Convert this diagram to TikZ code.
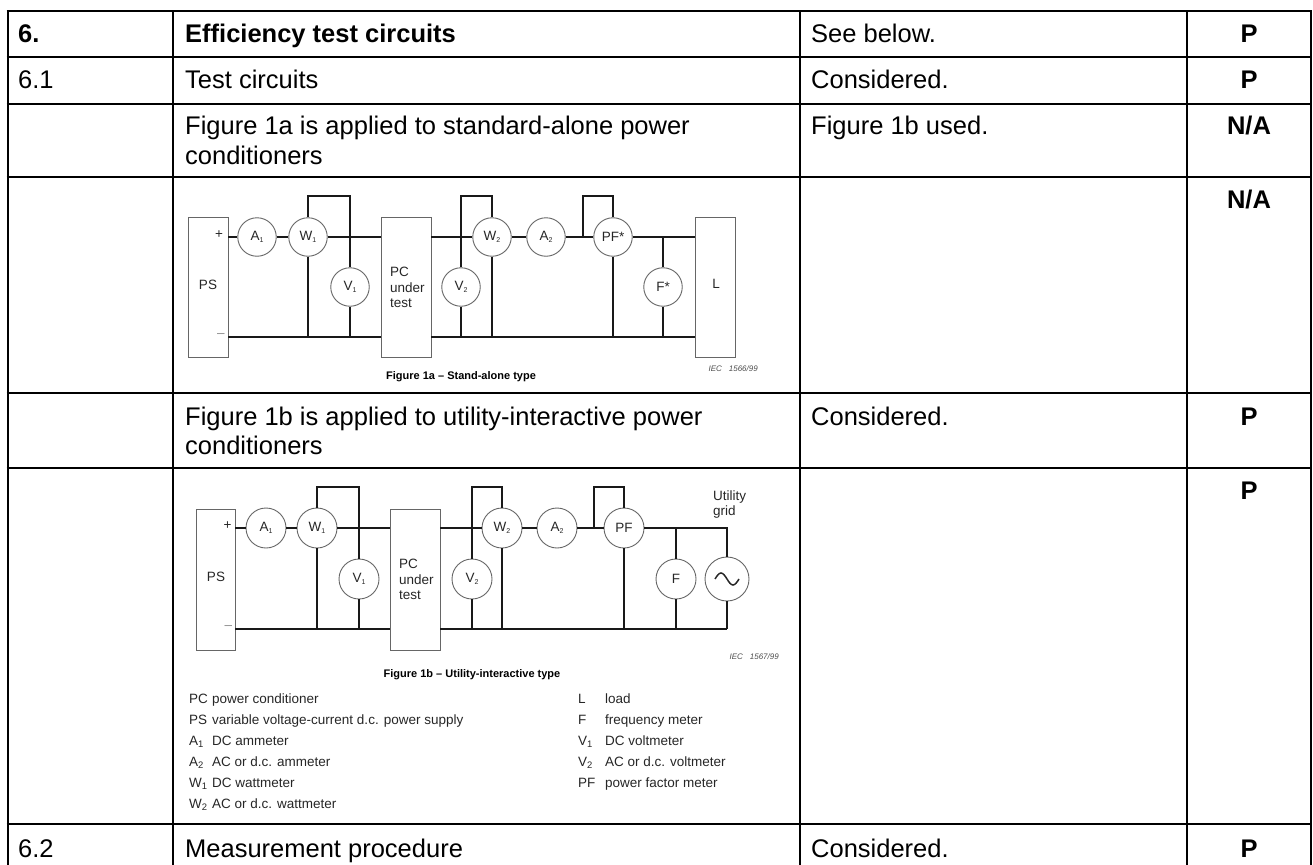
\documentclass[tikz,border=0pt]{standalone}
\usepackage{fontspec}
\setmainfont{Liberation Sans}
\usetikzlibrary{calc}
\newcommand\msb[1]{\raisebox{-2.4pt}{\fontsize{7}{7}\selectfont #1}}
\begin{document}
\begin{tikzpicture}[x=1pt,y=-1pt,
  tline/.style={line width=2pt, black},
  cell/.style={anchor=base west, inner sep=0pt, font=\fontsize{25.5}{29}\selectfont},
  cellb/.style={anchor=base west, inner sep=0pt, font=\fontsize{25.5}{29}\selectfont\bfseries},
  verd/.style={anchor=base, inner sep=0pt, font=\fontsize{25.5}{29}\selectfont\bfseries},
  wire/.style={line width=1.4pt, black!90},
  dev/.style={draw=black!60, line width=0.9pt, inner sep=0pt, font=\fontsize{13.5}{15.5}\selectfont, text=black!85},
  meter/.style={circle, draw=black!60, line width=0.9pt, minimum size=38.5pt, inner sep=0pt, font=\fontsize{13.5}{13.5}\selectfont, text=black!85},
  lbl/.style={inner sep=0pt, font=\fontsize{13.5}{15.5}\selectfont, text=black!85},
  figcap/.style={inner sep=0pt, font=\fontsize{11}{11}\selectfont\bfseries},
  iec/.style={inner sep=0pt, font=\fontsize{8}{8}\selectfont\itshape, text=black!70},
  leg/.style={anchor=base west, inner sep=0pt, font=\fontsize{13.5}{15}\selectfont, text=black!85},
]
\useasboundingbox (0,0) rectangle (1313,864);
\clip (0,0) rectangle (1313,864);

% ---- table grid
\foreach \y in {11.5,57,104,177,393,468,824} \draw[tline] (6.5,\y) -- (1312,\y);
\foreach \x in {7.5,173,800,1187,1311} \draw[tline] (\x,10.5) -- (\x,870);

% ---- table texts
\node[cellb] (r1a) at (18,43) {6.};
\node[cellb] (r1b) at (185,43) {Efficiency test circuits};
\node[cell]  (r1c) at (811,43) {See below.};
\node[verd]  (r1d) at (1249,43) {P};
\node[cell]  (r2a) at (18,88.5) {6.1};
\node[cell]  (r2b) at (185,88.5) {Test circuits};
\node[cell]  (r2c) at (811,88.5) {Considered.};
\node[verd]  (r2d) at (1249,88.5) {P};
\node[cell]  (r3b) at (185,135) {Figure 1a is applied to standard-alone power};
\node[cell]  (r3b2) at (185,164) {conditioners};
\node[cell]  (r3c) at (811,135) {Figure 1b used.};
\node[verd]  (r3d) at (1249,135) {N/A};
\node[verd]  (r4d) at (1249,208.5) {N/A};
\node[cell]  (r5b) at (185,425) {Figure 1b is applied to utility-interactive power};
\node[cell]  (r5b2) at (185,454) {conditioners};
\node[cell]  (r5c) at (811,425) {Considered.};
\node[verd]  (r5d) at (1249,425) {P};
\node[verd]  (r6d) at (1249,499.5) {P};
\node[cell]  (r7a) at (18,857) {6.2};
\node[cell]  (r7b) at (185,857) {Measurement procedure};
\node[cell]  (r7c) at (811,857) {Considered.};
\node[verd]  (r7d) at (1249,857) {P};

% ==== Figure 1a
\coordinate (t1) at (0,196);
\coordinate (b1) at (0,337);
\node[dev, minimum width=40pt, minimum height=140pt] (ps1) at (208,287) {};
\node[lbl] (pst1) at (208,285) {PS};
\node[dev, minimum width=50pt, minimum height=140pt] (pc1) at (406,287) {};
\node[dev, minimum width=40pt, minimum height=140pt] (ld1) at (715,287) {};
\node[lbl] (ldt1) at (716,284) {L};
\node[lbl] (pl1) at (219,235) {+};
\node[lbl, text=black!45] (mn1) at (221,336) {–};
\node[lbl, anchor=base west] (pct1) at (390,276) {PC};
\node[lbl, anchor=base west] (pcu1) at (390,292) {under};
\node[lbl, anchor=base west] (pcs1) at (390,307) {test};
\node[meter] (a11) at (257,237) {A\msb{1}};
\node[meter] (w11) at (308,237) {W\msb{1}};
\node[meter] (v11) at (350,287) {V\msb{1}};
\node[meter] (v21) at (461,287) {V\msb{2}};
\node[meter] (w21) at (492,237) {W\msb{2}};
\node[meter] (a21) at (546,237) {A\msb{2}};
\node[meter] (pf1) at (613,237) {PF*};
\node[meter] (f1) at (663,287) {F*};
\coordinate (j1) at (583,237);

\draw[wire] (ps1.east |- a11) -- (a11.west);
\draw[wire] (a11.east) -- (w11.west);
\draw[wire] (w11.east) -- (pc1.west |- w11);
\draw[wire] (w11.north) -- (w11 |- t1) -| (v11.north);
\draw[wire] (w11.south) -- (w11 |- b1);
\draw[wire] (v11.south) -- (v11 |- b1);
\draw[wire] (ps1.east |- b1) -- (pc1.west |- b1);
\draw[wire] (pc1.east |- w21) -- (w21.west);
\draw[wire] (v21.north) -- (v21 |- t1) -| (w21.north);
\draw[wire] (v21.south) -- (v21 |- b1);
\draw[wire] (w21.south) -- (w21 |- b1);
\draw[wire] (w21.east) -- (a21.west);
\draw[wire] (a21.east) -- (pf1.west);
\draw[wire] (j1) -- (j1 |- t1) -| (pf1.north);
\draw[wire] (pf1.south) -- (pf1 |- b1);
\draw[wire] (pf1.east) -- (ld1.west |- pf1);
\draw[wire] (f1 |- pf1) -- (f1.north);
\draw[wire] (f1.south) -- (f1 |- b1);
\draw[wire] (pc1.east |- b1) -- (ld1.west |- b1);

\node[figcap] (cap1) at (461,377) {Figure 1a – Stand-alone type};
\node[iec, anchor=east] (iec1) at (758,369) {IEC\hspace{7pt}1566/99};

% ==== Figure 1b
\coordinate (t2) at (0,487);
\coordinate (b2) at (0,629);
\node[dev, minimum width=39pt, minimum height=141pt] (ps2) at (215.5,579.5) {};
\node[lbl] (pst2) at (216,577) {PS};
\node[dev, minimum width=50pt, minimum height=141pt] (pc2) at (415,579.5) {};
\node[lbl] (pl2) at (227.5,526) {+};
\node[lbl, text=black!45] (mn2) at (228.5,628) {–};
\node[lbl, anchor=base west] (pct2) at (399,568) {PC};
\node[lbl, anchor=base west] (pcu2) at (399,584) {under};
\node[lbl, anchor=base west] (pcs2) at (399,599) {test};
\node[meter, minimum size=40pt] (a12) at (266,528) {A\msb{1}};
\node[meter, minimum size=40pt] (w12) at (317,528) {W\msb{1}};
\node[meter, minimum size=40pt] (v12) at (359,579) {V\msb{1}};
\node[meter, minimum size=40pt] (v22) at (472,579) {V\msb{2}};
\node[meter, minimum size=40pt] (w22) at (502,528) {W\msb{2}};
\node[meter, minimum size=40pt] (a22) at (557,528) {A\msb{2}};
\node[meter, minimum size=40pt] (pf2) at (624,528) {PF};
\node[meter, minimum size=40pt] (f2) at (676,579) {F};
\node[meter, minimum size=44pt] (src) at (727,579) {};
\coordinate (j2) at (594,528);
\draw[line width=1.5pt, black!85] ($(src)+(-12,0)$) sin ++(6,-6) cos ++(6,6) sin ++(6,6) cos ++(6,-6);
\node[lbl, anchor=base west] (ug1) at (713,500) {Utility};
\node[lbl, anchor=base west] (ug2) at (713,515) {grid};

\draw[wire] (ps2.east |- a12) -- (a12.west);
\draw[wire] (a12.east) -- (w12.west);
\draw[wire] (w12.east) -- (pc2.west |- w12);
\draw[wire] (w12.north) -- (w12 |- t2) -| (v12.north);
\draw[wire] (w12.south) -- (w12 |- b2);
\draw[wire] (v12.south) -- (v12 |- b2);
\draw[wire] (ps2.east |- b2) -- (pc2.west |- b2);
\draw[wire] (pc2.east |- w22) -- (w22.west);
\draw[wire] (v22.north) -- (v22 |- t2) -| (w22.north);
\draw[wire] (v22.south) -- (v22 |- b2);
\draw[wire] (w22.south) -- (w22 |- b2);
\draw[wire] (w22.east) -- (a22.west);
\draw[wire] (a22.east) -- (pf2.west);
\draw[wire] (j2) -- (j2 |- t2) -| (pf2.north);
\draw[wire] (pf2.south) -- (pf2 |- b2);
\draw[wire] (pf2.east) -- (src |- pf2) -- (src.north);
\draw[wire] (f2 |- pf2) -- (f2.north);
\draw[wire] (f2.south) -- (f2 |- b2);
\draw[wire] (src.south) -- (src |- b2);
\draw[wire] (pc2.east |- b2) -- (src |- b2);

\node[figcap] (cap2) at (472,675) {Figure 1b – Utility-interactive type};
\node[iec, anchor=east] (iec2) at (779,657) {IEC\hspace{7pt}1567/99};

% ==== legend
\node[leg] (k1) at (189,703) {PC};
\node[leg] (d1) at (212,703) {power conditioner};
\node[leg] (k2) at (189,724) {PS};
\node[leg] (d2) at (212,724) {variable voltage-current d.c. power supply};
\node[leg] (k3) at (189,745) {A\textsubscript{1}};
\node[leg] (d3) at (212,745) {DC ammeter};
\node[leg] (k4) at (189,766) {A\textsubscript{2}};
\node[leg] (d4) at (212,766) {AC or d.c. ammeter};
\node[leg] (k5) at (189,787) {W\textsubscript{1}};
\node[leg] (d5) at (212,787) {DC wattmeter};
\node[leg] (k6) at (189,808) {W\textsubscript{2}};
\node[leg] (d6) at (212,808) {AC or d.c. wattmeter};
\node[leg] (k7) at (578,703) {L};
\node[leg] (d7) at (605,703) {load};
\node[leg] (k8) at (578,724) {F};
\node[leg] (d8) at (605,724) {frequency meter};
\node[leg] (k9) at (578,745) {V\textsubscript{1}};
\node[leg] (d9) at (605,745) {DC voltmeter};
\node[leg] (k10) at (578,766) {V\textsubscript{2}};
\node[leg] (d10) at (605,766) {AC or d.c. voltmeter};
\node[leg] (k11) at (578,787) {PF};
\node[leg] (d11) at (605,787) {power factor meter};
\end{tikzpicture}
\end{document}
